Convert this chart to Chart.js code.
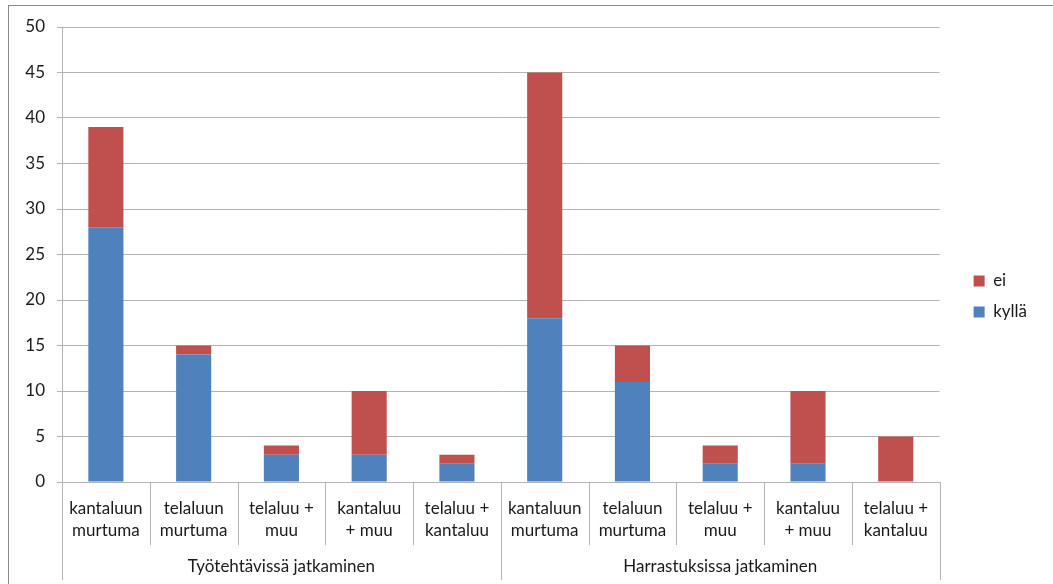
<!DOCTYPE html>
<html>
<head>
<meta charset="utf-8">
<script src="https://cdn.jsdelivr.net/npm/chart.js@4"></script>
<style>
  html, body { margin:0; padding:0; background:#fff; }
  #wrap { position:relative; width:1053px; height:584px; overflow:hidden; }
  #frame { position:absolute; left:8px; top:5px; width:1100px; height:700px; border:1px solid #8a8a8a; pointer-events:none; }
</style>
</head>
<body>
<div id="wrap">
  <canvas id="c" width="1053" height="584"></canvas>
  <div id="frame"></div>
</div>
<script>
const categories = [
  ['kantaluun','murtuma'], ['telaluun','murtuma'], ['telaluu +','muu'], ['kantaluu','+ muu'], ['telaluu +','kantaluu'],
  ['kantaluun','murtuma'], ['telaluun','murtuma'], ['telaluu +','muu'], ['kantaluu','+ muu'], ['telaluu +','kantaluu']
];
const groups = ['Työtehtävissä jatkaminen', 'Harrastuksissa jatkaminen'];
const groupSize = 5;
const kylla = [28, 14, 3, 3, 2, 18, 11, 2, 2, 0];
const ei    = [11, 1, 1, 7, 1, 27, 4, 2, 8, 5];
const yTicks = [0, 5, 10, 15, 20, 25, 30, 35, 40, 45, 50];

const FONT = 'Lato, "Open Sans", sans-serif';
const LINE = '#b4b4b4';

// erottimet ja ryhmien nimet x-akselin alle
const groupAxis = {
  id: 'groupAxis',
  afterLayout(chart) {
    // selite hieman oikealle ja ylös
    const lg = chart.legend;
    lg.left += 20; lg.right += 20;
    lg.top -= 9; lg.bottom -= 9;
  },
  afterDraw(chart) {
    const ctx = chart.ctx, x = chart.scales.x, area = chart.chartArea;
    const step = x.getPixelForValue(1) - x.getPixelForValue(0);
    ctx.save();
    ctx.strokeStyle = LINE;
    ctx.lineWidth = 1;
    for (let i = 0; i <= categories.length; i++) {
      const px = Math.round(x.getPixelForValue(i) - step / 2) + 0.5;
      const long = i % groupSize === 0;
      ctx.beginPath();
      ctx.moveTo(px, area.bottom);
      ctx.lineTo(px, area.bottom + (long ? 98 : 63));
      ctx.stroke();
    }
    ctx.fillStyle = '#1a1a1a';
    ctx.font = '17px ' + FONT;
    ctx.textAlign = 'center';
    ctx.textBaseline = 'middle';
    groups.forEach((g, gi) => {
      const a = x.getPixelForValue(gi * groupSize) - step / 2;
      const b = x.getPixelForValue(gi * groupSize + groupSize - 1) + step / 2;
      ctx.fillText(g, (a + b) / 2, area.bottom + 85);
    });
    ctx.restore();
  }
};

new Chart(document.getElementById('c'), {
  type: 'bar',
  data: {
    labels: categories,
    datasets: [
      { label: 'kyllä', data: kylla, backgroundColor: '#4f81bd', barPercentage: 0.4, categoryPercentage: 1 },
      { label: 'ei', data: ei, backgroundColor: '#c0504d', barPercentage: 0.4, categoryPercentage: 1 }
    ]
  },
  options: {
    responsive: false,
    animation: false,
    layout: { padding: { top: 27, right: 36, bottom: 0, left: 0 } },
    scales: {
      x: {
        stacked: true,
        grid: { display: false },
        border: { color: LINE },
        ticks: { color: '#1a1a1a', font: { family: FONT, size: 17, lineHeight: 1.3 }, maxRotation: 0, autoSkip: false, padding: 7 },
        afterFit(s) { s.height = 102; }
      },
      y: {
        stacked: true,
        min: 0, max: 50,
        afterBuildTicks(s) { s.ticks = yTicks.map(v => ({ value: v })); },
        grid: { color: LINE, tickLength: 5 },
        border: { color: LINE },
        ticks: { color: '#1a1a1a', font: { family: FONT, size: 17 }, padding: 12 },
        afterFit(s) { s.width = 62; }
      }
    },
    plugins: {
      legend: {
        position: 'right',
        reverse: true,
        labels: { boxWidth: 11, boxHeight: 11, padding: 14, color: '#1a1a1a', font: { family: FONT, size: 17 } }
      },
      tooltip: { enabled: false }
    }
  },
  plugins: [groupAxis]
});
</script>
</body>
</html>
